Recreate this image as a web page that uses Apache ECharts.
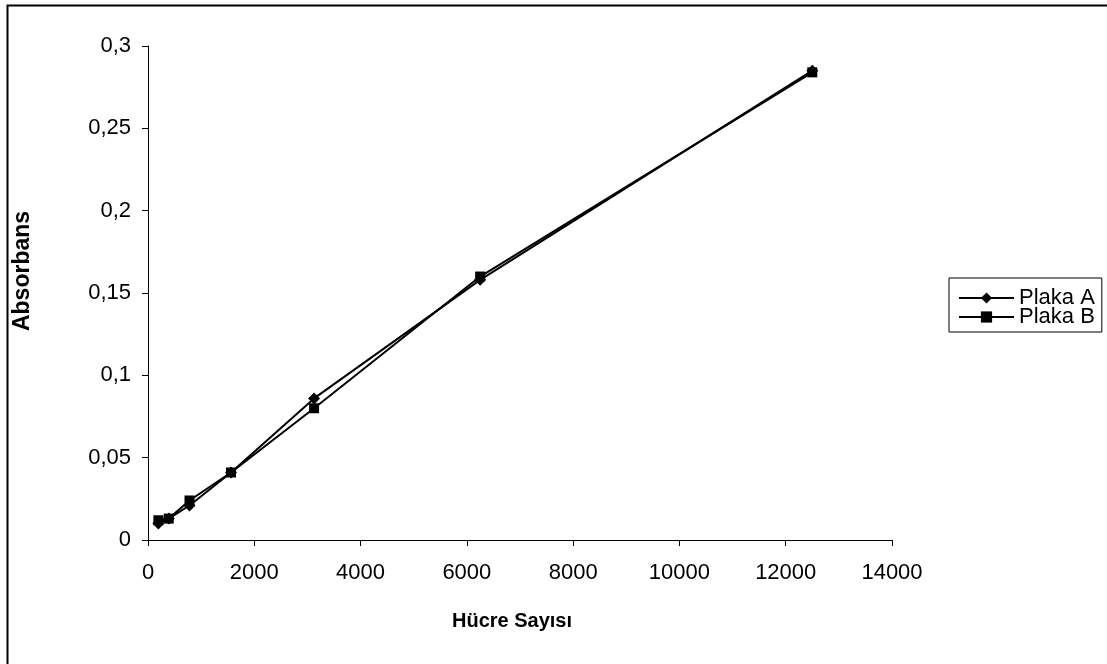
<!DOCTYPE html>
<html>
<head>
<meta charset="utf-8">
<title>Absorbans - Hücre Sayısı</title>
<script src="https://cdn.jsdelivr.net/npm/echarts@6/dist/echarts.min.js"></script>
<style>
  html, body { margin: 0; padding: 0; background: #fff; }
  #chart { width: 1107px; height: 664px; }
</style>
</head>
<body>
<div id="chart"></div>
<script>
// Cell counts (two-fold dilution series)
const cellCounts = [195, 390, 781, 1562, 3125, 6250, 12500];
// Absorbance readings per plate
const plakaA = [0.010, 0.013, 0.021, 0.041, 0.086, 0.158, 0.285];
const plakaB = [0.012, 0.013, 0.024, 0.041, 0.080, 0.160, 0.284];
const seriesNames = ['Plaka A', 'Plaka B'];
const xTitle = 'Hücre Sayısı';
const yTitle = 'Absorbans';

const pairs = (xs, ys) => xs.map((x, i) => [x, ys[i]]);
const FONT = '"Liberation Sans", Arial, sans-serif';

const chart = echarts.init(document.getElementById('chart'), null, { renderer: 'canvas' });

const lineSeries = (name, values, symbol, size) => ({
  name: name,
  type: 'line',
  data: pairs(cellCounts, values),
  symbol: symbol,
  symbolSize: size,
  showAllSymbol: true,
  lineStyle: { color: '#000', width: 2 },
  itemStyle: { color: '#000', borderColor: '#000', borderWidth: 0 },
  emphasis: { disabled: true },
  z: 3
});

chart.setOption({
  backgroundColor: '#fff',
  animation: false,
  graphic: [
    {
      // outer chart frame
      type: 'rect',
      shape: { x: 7.5, y: 5.5, width: 1110, height: 670 },
      style: { fill: 'none', stroke: '#000', lineWidth: 2 },
      silent: true,
      z: -1
    },
    {
      type: 'text',
      x: 512, y: 621,
      style: {
        text: xTitle, fontFamily: FONT, fontSize: 20, fontWeight: 'bold',
        fill: '#000', align: 'center', verticalAlign: 'middle'
      },
      silent: true
    },
    {
      type: 'text',
      x: 23, y: 271,
      rotation: Math.PI / 2,
      style: {
        text: yTitle, fontFamily: FONT, fontSize: 23, fontWeight: 'bold',
        fill: '#000', align: 'center', verticalAlign: 'middle'
      },
      silent: true
    }
  ],
  grid: { left: 148, right: 215, top: 46, bottom: 124, containLabel: false },
  legend: {
    orient: 'vertical',
    left: 949,
    top: 278,
    padding: [9, 7, 4, 9],
    itemGap: -3,
    itemWidth: 55,
    itemHeight: 14,
    borderColor: '#000',
    borderWidth: 1,
    textStyle: { fontFamily: FONT, fontSize: 22, lineHeight: 19, color: '#000' },
    data: seriesNames
  },
  xAxis: {
    type: 'value',
    min: 0,
    max: 14000,
    interval: 2000,
    axisLine: { show: true, lineStyle: { color: '#000', width: 1 } },
    axisTick: { show: true, length: 6, lineStyle: { color: '#000' } },
    axisLabel: { fontFamily: FONT, fontSize: 22, color: '#000', margin: 22, formatter: v => String(v) },
    splitLine: { show: false }
  },
  yAxis: {
    type: 'value',
    min: 0,
    max: 0.3,
    interval: 0.05,
    axisLine: { show: true, lineStyle: { color: '#000', width: 1 } },
    axisTick: { show: true, length: 6, lineStyle: { color: '#000' } },
    axisLabel: {
      fontFamily: FONT, fontSize: 22, color: '#000', margin: 17,
      formatter: v => String(Math.round(v * 100) / 100).replace('.', ',')
    },
    splitLine: { show: false }
  },
  series: [
    lineSeries(seriesNames[0], plakaA, 'diamond', 12),
    lineSeries(seriesNames[1], plakaB, 'rect', 10)
  ]
});
</script>
</body>
</html>
